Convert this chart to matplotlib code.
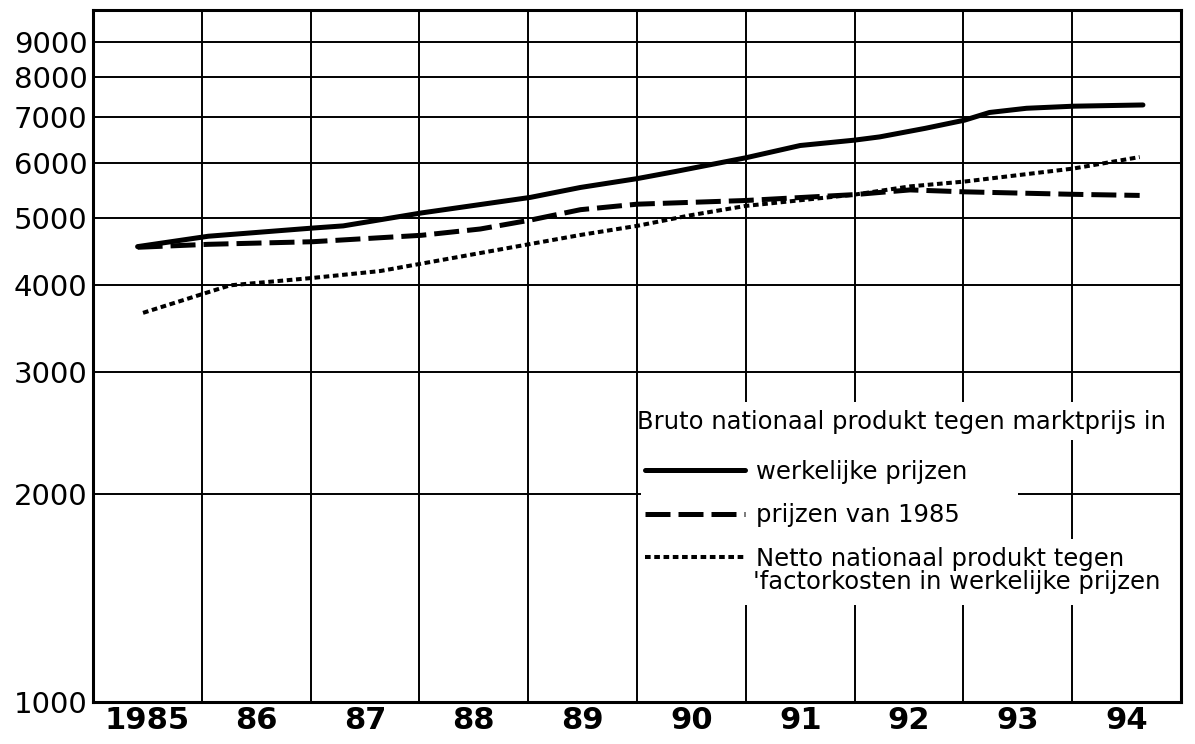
import matplotlib
matplotlib.use('Agg')
import matplotlib.pyplot as plt
from matplotlib.patches import Rectangle
import numpy as np

# kolommen: 0 = 1985 ... 9 = 1994 (positie in jaren vanaf het midden van de kolom)
jaren = ['1985', '86', '87', '88', '89', '90', '91', '92', '93', '94']
y_ticks = [1000, 2000, 3000, 4000, 5000, 6000, 7000, 8000, 9000]

# Bruto nationaal produkt, werkelijke prijzen
bnp_x = [-0.09, 0.56, 1.52, 1.80, 2.52, 3.52, 3.98, 4.50, 4.86, 5.50, 6.00,
         6.50, 6.73, 7.15, 7.51, 7.74, 8.08, 8.51, 9.15]
bnp_y = [4550, 4710, 4840, 4875, 5090, 5360, 5540, 5705, 5845, 6115, 6370,
         6485, 6555, 6745, 6930, 7110, 7210, 7260, 7290]

# Bruto nationaal produkt, prijzen van 1985
bnp85_x = [-0.09, 0.56, 1.52, 2.52, 3.06, 3.52, 3.98, 4.50, 5.50, 6.50,
           7.01, 7.51, 8.51, 9.12]
bnp85_y = [4540, 4585, 4625, 4725, 4825, 4970, 5145, 5240, 5305, 5410,
           5495, 5460, 5415, 5395]

# Netto nationaal produkt tegen factorkosten
nnp_x = [-0.04, 0.56, 0.76, 1.52, 2.14, 2.52, 3.52, 3.98, 4.50, 4.99,
         5.50, 6.50, 7.01, 7.51, 8.51, 9.12]
nnp_y = [3650, 3910, 4000, 4100, 4195, 4300, 4590, 4730, 4875, 5050,
         5210, 5410, 5560, 5650, 5900, 6130]

fig = plt.figure(figsize=(11.95, 7.44), dpi=100)
ax = fig.add_axes([0.0778, 0.0565, 0.9105, 0.9301])

l1, = ax.plot(bnp_x, bnp_y, color='black', lw=3.6, solid_capstyle='round', zorder=3)
l2, = ax.plot(bnp85_x, bnp85_y, color='black', lw=3.6, dashes=(5, 1.6), zorder=3)
l3, = ax.plot(nnp_x, nnp_y, color='black', lw=2.9, dashes=(1.4, 0.9), zorder=3)

ax.set_yscale('log')
ax.set_ylim(1000, 10000)
ax.set_xlim(-0.5, 9.5)
ax.set_yticks(y_ticks)
ax.set_yticklabels([str(v) for v in y_ticks])
ax.yaxis.set_minor_locator(matplotlib.ticker.NullLocator())
ax.set_xticks(np.arange(len(jaren)))
ax.set_xticklabels(jaren, fontweight='bold')
ax.set_xticks(np.arange(0.5, len(jaren) - 1), minor=True)

ax.grid(axis='y', which='major', color='black', lw=1.4)
ax.grid(axis='x', which='minor', color='black', lw=1.4)
ax.tick_params(axis='both', which='both', length=0)
ax.tick_params(axis='y', labelsize=21, pad=4)
ax.tick_params(axis='x', labelsize=22, pad=3)
for s in ax.spines.values():
    s.set_linewidth(2.2)

# witte vlakken achter de legenda (het raster loopt er deels doorheen)
for (x0, y0, w, h) in [(0.504, 0.379, 0.494, 0.054),
                       (0.504, 0.234, 0.346, 0.146),
                       (0.504, 0.140, 0.494, 0.095)]:
    ax.add_patch(Rectangle((x0, y0), w, h, transform=ax.transAxes,
                           facecolor='white', edgecolor='none', zorder=2.6))

ax.text(0.5, 0.405, 'Bruto nationaal produkt tegen marktprijs in',
        transform=ax.transAxes, fontsize=17.5, ha='left', va='center', zorder=4)

leg = ax.legend([l1, l2, l3],
                ['werkelijke prijzen', 'prijzen van 1985',
                 'Netto nationaal produkt tegen'],
                loc='upper left', bbox_to_anchor=(0.503, 0.357),
                fontsize=17.5, handlelength=4.1, handletextpad=0.45,
                labelspacing=0.8, borderpad=0.2, borderaxespad=0, frameon=False)
leg.set_zorder(4)
# tweede regel van de laatste legenda-tekst
ax.text(0.607, 0.174, "'factorkosten in werkelijke prijzen",
        transform=ax.transAxes, fontsize=17.5, ha='left', va='center', zorder=4)

fig.savefig('out.png', dpi=100)
